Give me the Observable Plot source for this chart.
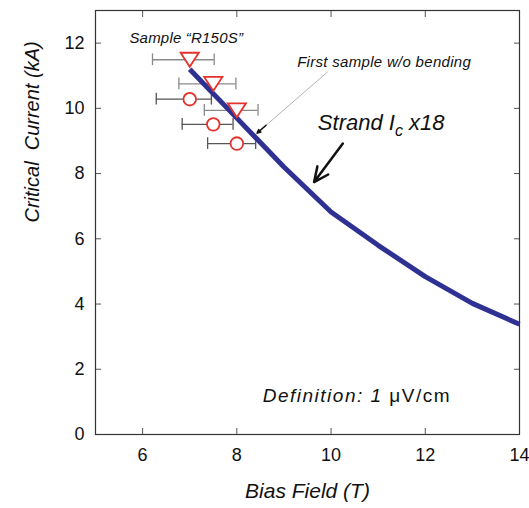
<!DOCTYPE html>
<html><head><meta charset="utf-8">
<script src="https://cdn.jsdelivr.net/npm/d3@7"></script>
<script src="https://cdn.jsdelivr.net/npm/@observablehq/plot@0.6"></script>
<style>
body{margin:0;background:#fff;}
</style></head><body><div id="chart"></div>
<script>
// Strand Ic x18 curve
const strandField = [7, 8, 9, 10, 11, 12, 13, 14];
const strandIc = [11.2, 9.7, 8.2, 6.82, 5.8, 4.84, 4.02, 3.38];

// Sample "R150S" – triangles
const triField = [7.0, 7.5, 8.0];
const triIc = [11.49, 10.75, 9.94];
const triLo = [6.21, 6.77, 7.31];
const triHi = [7.52, 7.98, 8.45];

// Sample "R150S" – circles
const circField = [7.0, 7.5, 8.0];
const circIc = [10.28, 9.51, 8.92];
const circLo = [6.29, 6.84, 7.38];
const circHi = [7.46, 7.92, 8.40];

const xTicks = [6, 8, 10, 12, 14];
const yTicks = [0, 2, 4, 6, 8, 10, 12];

const xTitle = "Bias Field (T)";
const yTitle = "Critical\u00a0 Current (kA)";

// annotations (data coordinates)
const notes = [
  {x: 5.72, y: 12.15, text: "Sample \u201cR150S\u201d", size: 15, ls: 0.2},
  {x: 9.28, y: 11.41, text: "First sample w/o bending", size: 15, ls: 0.3},
  {x: 9.72, y: 9.54, text: "STRAND", size: 22, ls: 0},
  {x: 8.55, y: 1.17, text: "DEFINITION", size: 19, ls: 1.5}
];
const arrowsThin = [{x1: 9.92, y1: 11.11, x2: 8.43, y2: 9.24}];
const arrowsThinHead = [{x1: 8.62, y1: 9.48, x2: 8.43, y2: 9.24}];
const arrowsThick = [{x1: 10.25, y1: 8.92, x2: 9.64, y2: 7.74}];

const strand = strandField.map((x, i) => ({x, y: strandIc[i]}));
const tri = triField.map((x, i) => ({x, y: triIc[i], lo: triLo[i], hi: triHi[i]}));
const circ = circField.map((x, i) => ({x, y: circIc[i], lo: circLo[i], hi: circHi[i]}));

const red = "#e5322d";
const cap = 0.18;
const triDown = {
  draw(ctx, size) {
    const r = Math.sqrt(size / Math.PI);
    const w = r * 1.3, h = r;
    ctx.moveTo(-w, -h); ctx.lineTo(w, -h); ctx.lineTo(0, h); ctx.closePath();
  }
};

function errMarks(data, color) {
  return [
    Plot.ruleY(data, {y: "y", x1: "lo", x2: "hi", stroke: color, strokeWidth: 1.3}),
    Plot.ruleX(data, {x: "lo", y1: d => d.y - cap, y2: d => d.y + cap, stroke: color, strokeWidth: 1.3}),
    Plot.ruleX(data, {x: "hi", y1: d => d.y - cap, y2: d => d.y + cap, stroke: color, strokeWidth: 1.3})
  ];
}

const chart = Plot.plot({
  width: 529, height: 508,
  marginLeft: 95, marginRight: 10, marginTop: 10, marginBottom: 74,
  style: {fontFamily: "'Liberation Sans', Arial, sans-serif", fontSize: "18px", color: "#111", background: "#fff"},
  x: {domain: [5, 14]},
  y: {domain: [0, 13]},
  marks: [
    Plot.axisX(xTicks, {anchor: "bottom", tickSize: 0, tickPadding: 14, fontSize: 18, label: null}),
    Plot.axisY(yTicks, {anchor: "left", tickSize: 0, tickPadding: 11, fontSize: 18, label: null}),
    Plot.axisX(xTicks, {anchor: "bottom", tickSize: -6, text: null, label: null, stroke: "#555"}),
    Plot.axisX(xTicks, {anchor: "top", tickSize: -6, text: null, label: null, stroke: "#555"}),
    Plot.axisY(yTicks, {anchor: "left", tickSize: -6, text: null, label: null, stroke: "#555"}),
    Plot.axisY(yTicks, {anchor: "right", tickSize: -6, text: null, label: null, stroke: "#555"}),
    Plot.text([xTitle], {frameAnchor: "bottom", dy: 63, fontSize: 21, fontStyle: "italic", fill: "#111"}),
    Plot.text([yTitle], {frameAnchor: "left", dx: -63, rotate: -90, fontSize: 20, fontStyle: "italic", fill: "#111"}),
    Plot.frame({stroke: "#333", strokeWidth: 1.2}),
    ...errMarks(tri, "#8a8a8a"),
    ...errMarks(circ, "#555"),
    Plot.line(strand, {x: "x", y: "y", stroke: "#2e3192", strokeWidth: 5, strokeLinecap: "butt"}),
    Plot.dot(tri, {x: "x", y: "y", symbol: triDown, r: 7, stroke: red, fill: "white", strokeWidth: 1.8}),
    Plot.dot(circ, {x: "x", y: "y", r: 6.3, stroke: red, fill: "white", strokeWidth: 1.8}),
    Plot.arrow(arrowsThin, {x1: "x1", y1: "y1", x2: "x2", y2: "y2", stroke: "#aaa", strokeWidth: 0.9, headLength: 0}),
    Plot.arrow(arrowsThinHead, {x1: "x1", y1: "y1", x2: "x2", y2: "y2", stroke: "#111", strokeWidth: 1.5, headLength: 10, headAngle: 50}),
    Plot.arrow(arrowsThick, {x1: "x1", y1: "y1", x2: "x2", y2: "y2", stroke: "#111", strokeWidth: 2.5, headLength: 16, headAngle: 50}),
    Plot.text(notes, {x: "x", y: "y", text: "text", fontSize: "size", textAnchor: "start", fontStyle: "italic", fill: "#111"})
  ]
});

// rich text (subscript, upright unit) and letter spacing
const spacing = new Map(notes.map(n => [n.text, n.ls]));
d3.select(chart).selectAll("text").each(function() {
  const t = d3.select(this);
  const c = this.textContent;
  if (spacing.has(c) && spacing.get(c)) t.attr("letter-spacing", spacing.get(c));
  if (c === "STRAND") {
    t.text(null);
    t.append("tspan").text("Strand I");
    t.append("tspan").attr("dy", 6).attr("font-size", 16).text("c");
    t.append("tspan").attr("dy", -6).text(" x18");
  } else if (c === "DEFINITION") {
    t.text(null);
    t.append("tspan").text("Definition: 1 ");
    t.append("tspan").attr("font-style", "normal").text("\u03bcV/cm");
  }
});

document.getElementById("chart").appendChild(chart);
</script>
</body></html>
